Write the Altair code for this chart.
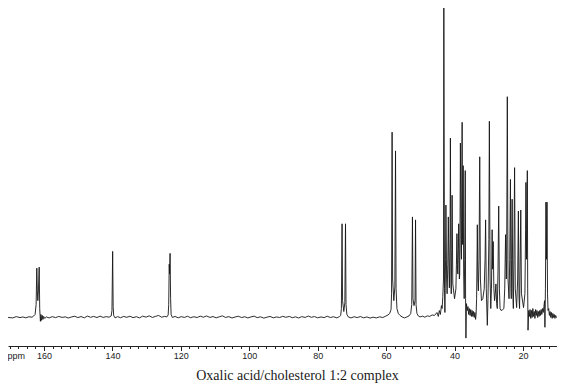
import altair as alt
import pandas as pd

# ---- spectrum trace (ppm, relative intensity) ----
# region 1: baseline + oxalic acid carbonyl doublet
ppm_r1 = [170.5,169.2,168.1,167.0,166.2,165.3,164.4,163.5,163.0,
          162.6,162.3,162.1,161.95,161.8,161.6,161.4,161.25,161.05,
          160.9,160.7,160.5,160.3,160.1,159.8,159.3,
          158.5,157.6,156.6,155.7,154.7,153.8,152.9,151.9,151.0,150.1,
          149.2,148.2,147.3,146.4,145.5,144.5,143.6,142.7,141.8,141.0,140.35]
int_r1 = [1,0.5,1.8,0.8,1.5,0.6,1.7,1.2,2.5,
          4,14,51,28,18,30,52,10,-3,
          4,-2,3,-1,2,0,1.5,
          0.5,1.8,0.8,2,1,1.6,0.4,1.5,2.2,0.8,
          1.9,0.6,2.4,1.1,2,0.9,2.3,1,1.8,1.2,2.5]

# region 2: olefinic carbons and empty baseline
ppm_r2 = [140.13,139.93,139.78,139.63,139.23,
          138.52,137.61,136.70,135.80,134.89,133.98,132.97,132.07,131.16,130.15,
          129.24,128.33,127.43,126.52,125.61,124.70,124.10,123.70,
          123.54,123.39,123.29,123.14,122.99,122.84,122.48,
          121.68,120.77,119.86,118.95,118.05,117.14,116.23,115.22,114.32,113.41,
          112.50,111.49,110.58,109.68,108.77,107.86,106.95,105.95,105.04,104.13,
          103.22,102.21,101.31,100.40,99.49,98.58,97.68,96.67,95.76,94.85,
          93.94,92.94,92.03,91.12,90.21,89.31,88.30,87.39,86.48,85.57,
          84.67,83.66,82.75,81.84,80.94,80.03,79.02,78.11,77.20,76.30,
          75.39,74.38,73.67,73.27]
int_r2 = [8,68,12,3,0.5,
          1.8,0.7,2,1.1,2.2,0.8,1.7,0.5,2.3,1.3,
          2.6,1,2,3,1.2,2.1,1.5,3.5,
          14,55,45,66,20,4,1,
          2,0.6,1.8,1,2.2,0.7,1.7,0.9,2.3,1.2,
          2.5,1,1.9,0.6,1.6,2.6,1,1.8,0.4,1.4,
          2.2,0.9,1.7,0.5,1.5,2.3,0.8,1.6,0.3,1.2,
          2,0.6,1.5,0.9,2.1,1.1,2,0.7,1.6,0.4,
          1.8,1,2.4,1.1,1.9,0.6,1.5,0.8,2.2,0.9,
          1.7,0.5,1.8,3]

# region 3: C-O doublet, 57 and 52 ppm doublets
ppm_r3 = [73.07,72.87,72.72,72.36,72.06,71.86,71.71,71.46,71.05,
          70.25,69.34,68.43,67.52,66.61,65.61,64.70,63.79,62.88,61.88,
          60.97,60.16,59.45,58.95,58.55,
          58.40,58.24,58.09,57.74,57.44,57.24,57.08,56.83,56.43,55.92,55.32,
          54.61,53.91,53.30,52.80,52.50,52.29,52.14,51.84,51.54,51.39,51.24,50.98,50.58,50.08,
          49.37,48.66,47.96,47.25,46.55,45.84,45.13,44.73,44.43,44.13,43.82,43.62,43.42]
int_r3 = [10,96,18,7,16,96,14,4,1.5,
          0.5,1.7,0.8,1.9,0.6,1.5,0.3,1.3,0.5,1.6,
          0.9,2.2,3.5,5,9,
          25,189,40,18,32,170,30,10,5,3,1.5,
          0.5,1.5,2.5,5,14,103,20,13,18,100,14,5,2.5,1.5,
          2.3,1.2,2.6,2,3.5,3,6,2,8,4,13,10,22]

# region 4: dense aliphatic region
ppm_r4 = [43.22,43.12,42.92,42.81,42.61,42.51,42.31,42.16,41.96,41.81,
          41.60,41.50,41.30,41.20,41.05,40.95,40.80,40.70,40.50,39.99,
          39.59,39.44,39.29,39.13,39.03,38.88,38.78,38.58,38.48,38.38,
          38.28,38.07,37.97,37.87,37.77,37.67,37.62,37.52,37.47,37.32,
          37.17,37.02,36.86,36.76,36.66,36.51,36.26,36.06,35.86,35.65,
          35.45,35.25,35.05,34.85,34.65,34.44,34.24,34.04,33.84,33.69,
          33.54,33.39,33.33,33.18,33.03,32.83,32.63,32.43,32.12,31.72,
          31.32,31.07,30.91,30.71,30.41,30.21,29.96,29.81,29.60,29.40,
          29.20,29.00,28.85,28.70,28.49,28.29,28.09,27.89,27.69,27.49,
          27.28,27.08,26.88,26.68,26.38,25.87,25.57,25.32,25.07,24.86,
          24.76,24.56,24.36,24.06,23.86,23.65,23.50,23.40,23.30,23.15,
          22.95,22.80,22.64,22.44,22.24,21.84,21.54,21.33,21.13,20.98,
          20.83,20.63,20.43,19.82,19.42,19.22,19.12,18.96,18.71,18.61,
          18.51,18.31]
int_r4 = [40,315,30,6,60,115,40,25,55,103,
          45,31,80,183,40,25,70,125,35,20,
          30,55,86,50,45,70,96,40,45,100,
          178,70,60,130,199,80,75,120,155,45,
          20,60,150,20,-20,15,8,12,4,10,
          3,9,2,8,2,7,1,6,-1,4,
          20,70,95,40,28,60,164,40,18,20,
          30,60,100,30,-7,20,80,200,40,10,
          30,90,50,78,30,18,25,35,15,10,
          50,114,30,10,8,9,10,30,85,40,
          60,225,40,20,60,141,30,20,60,121,
          25,10,60,153,30,11,40,109,20,10,
          50,110,25,11,25,90,138,60,150,30,
          -12,8]

# region 5: noisy high-field end and methyl doublet
ppm_r5 = [18.11,17.91,17.70,17.50,17.30,17.10,16.90,16.69,16.49,16.29,
          16.09,15.89,15.69,15.48,15.28,15.08,14.88,14.68,14.48,14.28,
          14.07,13.87,13.67,13.57,13.42,13.27,13.11,12.96,12.81,12.66,
          12.46,12.26,12.06,11.85,11.65,11.45,11.25,11.05,10.85,10.65,
          10.44,10.24,9.94,9.60,9.30]
int_r5 = [2,9,0,8,1,10,2,7,0,9,
          3,8,1,7,2,8,3,9,4,10,
          6,12,18,-9,30,118,60,118,25,8,
          10,3,7,1,6,0,5,1,4,0,
          3,1,2,1,1.5]

major_ticks = [20, 40, 60, 80, 100, 120, 140, 160]
minor_ticks = [12.5 + 2.5 * k for k in range(64)]

regions = [(ppm_r1, int_r1), (ppm_r2, int_r2), (ppm_r3, int_r3),
           (ppm_r4, int_r4), (ppm_r5, int_r5)]
rows = []
for p, v in regions:
    assert len(p) == len(v), (len(p), len(v))
    rows.extend(zip(p, v))
df = pd.DataFrame(rows, columns=["ppm", "intensity"])
df = df.sort_values("ppm", ascending=False).reset_index(drop=True)
df["order"] = range(len(df))

axis_x = alt.Axis(
    values=minor_ticks,
    labelExpr="datum.value % 20 === 0 ? format(datum.value, 'd') : ''",
    tickSize={"condition": {"test": "datum.value % 20 === 0", "value": 4.5}, "value": 2.5},
    labelOverlap=False,
    labelFlush=False,
    labelFont="Liberation Sans",
    labelFontSize=9,
    labelColor="#222222",
    labelPadding=1,
    grid=False,
    domainColor="#222222",
    domainWidth=1,
    tickColor="#222222",
    tickWidth=1,
    title="ppm",
    titleX=-1,
    titleY=5.5,
    titleAlign="left",
    titleAnchor="start",
    titleBaseline="top",
    titleFont="Liberation Sans",
    titleFontSize=9,
    titleFontWeight="normal",
    titleColor="#222222",
)

chart = alt.Chart(df).mark_line(color="#151515", strokeWidth=0.9, clip=True).encode(
    x=alt.X("ppm:Q", scale=alt.Scale(domain=[10.04, 170.52], reverse=True, nice=False, zero=False), axis=axis_x),
    y=alt.Y("intensity:Q", scale=alt.Scale(domain=[-28, 315], nice=False, zero=False), axis=None),
    order="order:Q",
).properties(
    width=549,
    height=338,
    autosize="none",
    padding={"left": 0, "top": 0, "right": 0, "bottom": 38},
    background="white",
    title=alt.TitleParams(
        "Oxalic acid/cholesterol 1:2 complex",
        orient="bottom",
        anchor="middle",
        font="Liberation Serif",
        fontSize=14,
        fontWeight="normal",
        color="#1a1a1a",
        offset=8,
        dx=15,
    ),
).configure_view(stroke=None)

chart.save("out.html", embed_options={"renderer": "svg", "actions": False})
